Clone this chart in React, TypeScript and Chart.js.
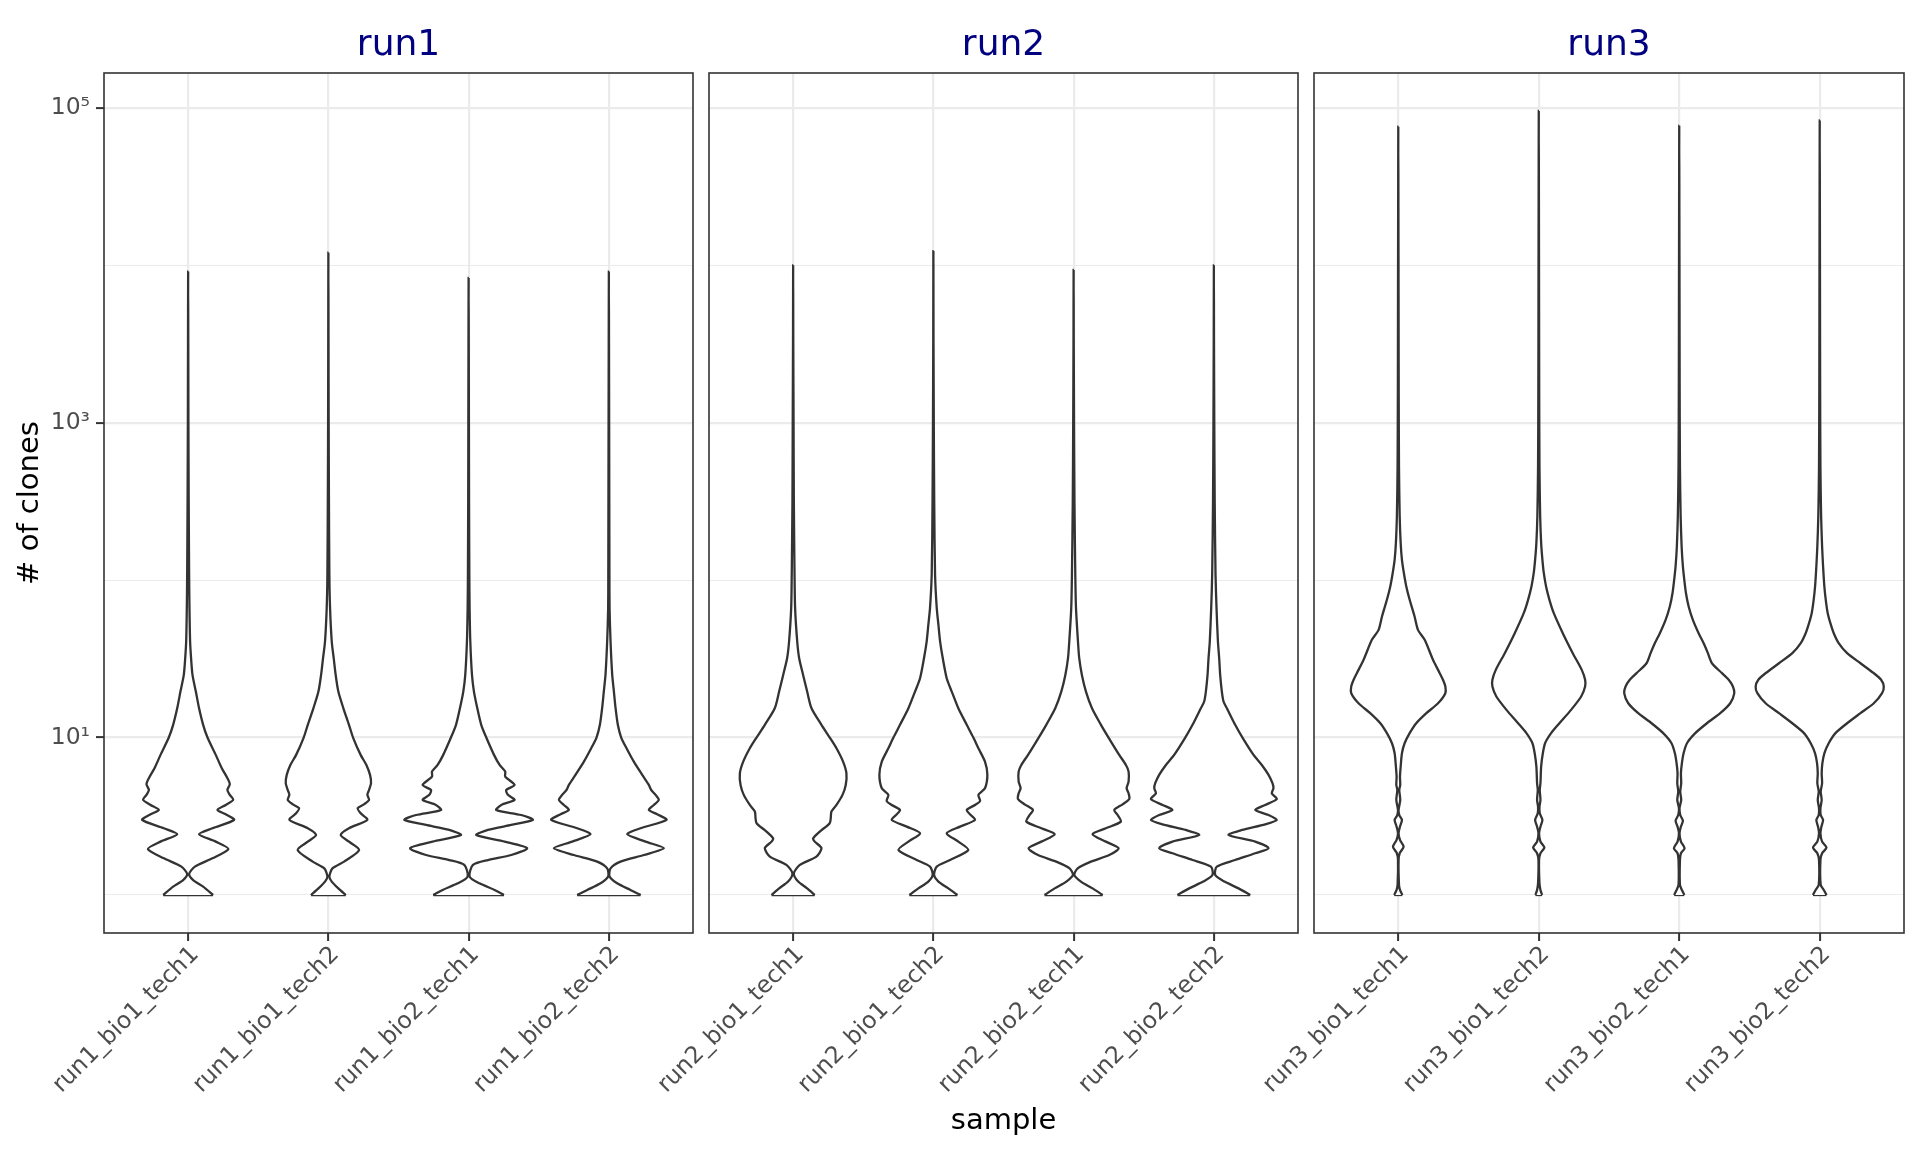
import React, { useEffect, useRef } from 'react';
import { Chart, registerables } from 'chart.js';

Chart.register(...registerables);

const FONT = '"DejaVu Sans", "Noto Sans", sans-serif';

// ---------- data ----------
const panelTitles = ['run1', 'run2', 'run3'];
const run1Samples = ['run1_bio1_tech1', 'run1_bio1_tech2', 'run1_bio2_tech1', 'run1_bio2_tech2'];
const run2Samples = ['run2_bio1_tech1', 'run2_bio1_tech2', 'run2_bio2_tech1', 'run2_bio2_tech2'];
const run3Samples = ['run3_bio1_tech1', 'run3_bio1_tech2', 'run3_bio2_tech1', 'run3_bio2_tech2'];

const yTickValues = [1, 10, 100, 1000, 10000, 100000];
const yTickLabels = ['', '10¹', '', '10³', '', '10⁵'];
const yMin = 0.5735;
const yMax = 166500;

// violin outlines: [log10(# of clones), half-width (category units)]
const run1_bio1_tech1: [number, number][] = [
  [0, 0.178], [0.053, 0.107], [0.095, 0.036], [0.133, 0.007], [0.18, 0.048], [0.233, 0.173],
  [0.292, 0.287], [0.339, 0.197], [0.386, 0.078], [0.424, 0.173], [0.477, 0.328], [0.513, 0.268],
  [0.54, 0.209], [0.572, 0.268], [0.604, 0.321], [0.636, 0.297], [0.667, 0.28], [0.703, 0.297],
  [0.742, 0.28], [0.805, 0.24], [0.89, 0.197], [1.0, 0.138], [1.081, 0.107], [1.186, 0.078],
  [1.292, 0.055], [1.398, 0.031], [1.504, 0.021], [1.61, 0.014], [1.822, 0.0095], [2.034, 0.007],
  [2.5, 0.004], [3.0, 0.002], [3.5, 0.001], [3.96, 0],
];
const run1_bio1_tech2: [number, number][] = [
  [0, 0.124], [0.042, 0.071], [0.085, 0.024], [0.117, 0.007], [0.169, 0.029], [0.212, 0.112],
  [0.286, 0.219], [0.339, 0.147], [0.381, 0.088], [0.424, 0.147], [0.477, 0.278], [0.519, 0.23],
  [0.551, 0.209], [0.576, 0.254], [0.604, 0.29], [0.636, 0.278], [0.667, 0.29], [0.71, 0.304],
  [0.763, 0.297], [0.826, 0.271], [0.89, 0.23], [1.0, 0.176], [1.081, 0.147], [1.186, 0.107],
  [1.292, 0.071], [1.398, 0.052], [1.504, 0.038], [1.61, 0.024], [1.822, 0.012], [2.034, 0.007],
  [2.5, 0.004], [3.0, 0.002], [3.5, 0.001], [4.08, 0],
];
const run1_bio2_tech1: [number, number][] = [
  [0, 0.252], [0.032, 0.185], [0.074, 0.078], [0.117, 0.007], [0.191, 0.031], [0.222, 0.138],
  [0.254, 0.304], [0.297, 0.418], [0.339, 0.257], [0.381, 0.055], [0.413, 0.138], [0.445, 0.304],
  [0.477, 0.458], [0.508, 0.375], [0.54, 0.197], [0.572, 0.233], [0.604, 0.328], [0.636, 0.28],
  [0.667, 0.268], [0.699, 0.328], [0.752, 0.261], [0.784, 0.261], [0.826, 0.221], [0.89, 0.181],
  [1.0, 0.126], [1.081, 0.09], [1.186, 0.062], [1.292, 0.038], [1.398, 0.024], [1.61, 0.012],
  [1.822, 0.007], [2.034, 0.005], [2.5, 0.003], [3.0, 0.002], [3.5, 0.001], [3.92, 0],
];
const run1_bio2_tech2: [number, number][] = [
  [0, 0.226], [0.032, 0.154], [0.074, 0.059], [0.117, 0.005], [0.169, 0.012], [0.212, 0.083],
  [0.254, 0.249], [0.297, 0.392], [0.339, 0.261], [0.386, 0.131], [0.424, 0.226], [0.477, 0.411],
  [0.513, 0.344], [0.54, 0.285], [0.572, 0.321], [0.604, 0.356], [0.636, 0.333], [0.667, 0.302],
  [0.699, 0.285], [0.763, 0.238], [0.847, 0.178], [0.932, 0.126], [1.0, 0.088], [1.081, 0.064],
  [1.186, 0.048], [1.292, 0.036], [1.398, 0.024], [1.61, 0.012], [1.822, 0.005], [2.034, 0.004],
  [2.5, 0.003], [3.0, 0.002], [3.5, 0.001], [3.96, 0],
];
const run2_bio1_tech1: [number, number][] = [
  [0, 0.154], [0.042, 0.1], [0.085, 0.036], [0.138, 0.005], [0.191, 0.048], [0.244, 0.166],
  [0.297, 0.202], [0.339, 0.154], [0.36, 0.143], [0.403, 0.19], [0.456, 0.261], [0.487, 0.268],
  [0.53, 0.273], [0.572, 0.309], [0.636, 0.352], [0.699, 0.375], [0.773, 0.38], [0.847, 0.356],
  [0.932, 0.309], [1.0, 0.261], [1.081, 0.202], [1.186, 0.131], [1.292, 0.1], [1.398, 0.071],
  [1.504, 0.043], [1.61, 0.029], [1.822, 0.014], [2.034, 0.01], [2.5, 0.005], [3.0, 0.003],
  [3.5, 0.001], [4.0, 0],
];
const run2_bio1_tech2: [number, number][] = [
  [0, 0.171], [0.042, 0.107], [0.085, 0.036], [0.127, 0.005], [0.18, 0.024], [0.222, 0.119],
  [0.286, 0.249], [0.339, 0.178], [0.392, 0.095], [0.434, 0.19], [0.477, 0.297], [0.513, 0.261],
  [0.54, 0.238], [0.572, 0.297], [0.597, 0.333], [0.636, 0.321], [0.678, 0.368], [0.763, 0.385],
  [0.847, 0.368], [0.932, 0.321], [1.0, 0.285], [1.081, 0.238], [1.186, 0.178], [1.292, 0.131],
  [1.377, 0.095], [1.504, 0.067], [1.61, 0.048], [1.716, 0.036], [1.822, 0.024], [2.034, 0.012],
  [2.5, 0.006], [3.0, 0.003], [3.5, 0.001], [4.09, 0],
];
const run2_bio2_tech1: [number, number][] = [
  [0, 0.207], [0.042, 0.135], [0.085, 0.052], [0.127, 0.005], [0.169, 0.029], [0.212, 0.124],
  [0.254, 0.254], [0.297, 0.321], [0.339, 0.23], [0.386, 0.135], [0.424, 0.23], [0.466, 0.337],
  [0.508, 0.314], [0.54, 0.29], [0.576, 0.349], [0.61, 0.397], [0.646, 0.392], [0.678, 0.378],
  [0.72, 0.392], [0.784, 0.392], [0.826, 0.373], [0.89, 0.325], [1.0, 0.249], [1.081, 0.195],
  [1.186, 0.131], [1.292, 0.088], [1.398, 0.059], [1.504, 0.04], [1.61, 0.031], [1.822, 0.017],
  [2.034, 0.012], [2.5, 0.006], [3.0, 0.003], [3.5, 0.001], [3.97, 0],
];
const run2_bio2_tech2: [number, number][] = [
  [0, 0.259], [0.042, 0.176], [0.085, 0.076], [0.127, 0.01], [0.18, 0.021], [0.222, 0.152],
  [0.265, 0.295], [0.297, 0.39], [0.339, 0.295], [0.381, 0.105], [0.413, 0.2], [0.449, 0.366],
  [0.477, 0.449], [0.508, 0.39], [0.54, 0.295], [0.572, 0.366], [0.61, 0.449], [0.646, 0.413],
  [0.678, 0.425], [0.71, 0.418], [0.763, 0.39], [0.826, 0.342], [0.89, 0.283], [1.0, 0.204],
  [1.081, 0.152], [1.186, 0.093], [1.229, 0.069], [1.292, 0.057], [1.398, 0.045], [1.504, 0.038],
  [1.61, 0.029], [1.822, 0.019], [2.034, 0.012], [2.5, 0.006], [3.0, 0.003], [3.5, 0.001], [4.0, 0],
];
const run3_bio1_tech1: [number, number][] = [
  [0, 0.029], [0.032, 0.012], [0.064, 0.005], [0.222, 0.002], [0.265, 0.01], [0.307, 0.038],
  [0.35, 0.012], [0.392, 0.002], [0.434, 0.012], [0.477, 0.026], [0.508, 0.007], [0.54, 0.002],
  [0.604, 0.014], [0.667, 0.007], [0.699, 0.014], [0.752, 0.012], [0.816, 0.017], [0.9, 0.026],
  [0.964, 0.045], [1.028, 0.081], [1.091, 0.128], [1.155, 0.2], [1.218, 0.283], [1.282, 0.335],
  [1.324, 0.335], [1.367, 0.318], [1.409, 0.295], [1.494, 0.247], [1.621, 0.188], [1.684, 0.14],
  [1.769, 0.116], [1.875, 0.081], [1.96, 0.057], [2.044, 0.04], [2.129, 0.026], [2.235, 0.017],
  [2.405, 0.01], [2.722, 0.005], [3.2, 0.003], [3.8, 0.002], [4.3, 0.001], [4.88, 0],
];
const run3_bio1_tech2: [number, number][] = [
  [0, 0.024], [0.032, 0.012], [0.074, 0.005], [0.222, 0.002], [0.265, 0.012], [0.301, 0.04],
  [0.339, 0.012], [0.392, 0.002], [0.434, 0.012], [0.477, 0.026], [0.519, 0.007], [0.561, 0.005],
  [0.604, 0.012], [0.667, 0.007], [0.71, 0.012], [0.816, 0.017], [0.9, 0.029], [0.964, 0.045],
  [1.028, 0.088], [1.091, 0.147], [1.176, 0.23], [1.261, 0.302], [1.324, 0.33], [1.367, 0.33],
  [1.43, 0.306], [1.536, 0.242], [1.663, 0.171], [1.79, 0.107], [1.875, 0.076], [1.96, 0.052],
  [2.044, 0.036], [2.129, 0.026], [2.235, 0.017], [2.405, 0.01], [2.722, 0.005], [3.2, 0.003],
  [3.8, 0.002], [4.4, 0.001], [4.98, 0],
];
const run3_bio2_tech1: [number, number][] = [
  [0, 0.036], [0.032, 0.019], [0.064, 0.005], [0.222, 0.005], [0.265, 0.012], [0.297, 0.038],
  [0.339, 0.012], [0.392, 0.002], [0.434, 0.012], [0.472, 0.026], [0.508, 0.007], [0.551, 0.002],
  [0.604, 0.014], [0.657, 0.007], [0.71, 0.014], [0.773, 0.012], [0.837, 0.019], [0.9, 0.031],
  [0.964, 0.055], [1.028, 0.114], [1.091, 0.197], [1.155, 0.292], [1.218, 0.363], [1.282, 0.392],
  [1.324, 0.382], [1.367, 0.352], [1.409, 0.304], [1.472, 0.233], [1.536, 0.204], [1.6, 0.173],
  [1.663, 0.138], [1.748, 0.097], [1.833, 0.067], [1.917, 0.048], [2.002, 0.036], [2.087, 0.026],
  [2.214, 0.017], [2.405, 0.01], [2.722, 0.005], [3.2, 0.003], [3.8, 0.002], [4.3, 0.001], [4.886, 0],
];
const run3_bio2_tech2: [number, number][] = [
  [0, 0.048], [0.032, 0.029], [0.064, 0.007], [0.222, 0.005], [0.265, 0.017], [0.301, 0.048],
  [0.339, 0.017], [0.392, 0.005], [0.434, 0.012], [0.477, 0.024], [0.508, 0.007], [0.551, 0.005],
  [0.604, 0.014], [0.657, 0.007], [0.71, 0.017], [0.773, 0.014], [0.837, 0.019], [0.9, 0.033],
  [0.964, 0.064], [1.028, 0.112], [1.091, 0.195], [1.155, 0.29], [1.218, 0.385], [1.282, 0.444],
  [1.324, 0.456], [1.367, 0.437], [1.409, 0.385], [1.472, 0.29], [1.536, 0.195], [1.6, 0.135],
  [1.663, 0.1], [1.727, 0.076], [1.79, 0.057], [1.875, 0.043], [1.96, 0.033], [2.087, 0.024],
  [2.214, 0.017], [2.405, 0.01], [2.722, 0.005], [3.2, 0.003], [3.8, 0.002], [4.4, 0.001], [4.92, 0],
];

const run1Violins = [run1_bio1_tech1, run1_bio1_tech2, run1_bio2_tech1, run1_bio2_tech2];
const run2Violins = [run2_bio1_tech1, run2_bio1_tech2, run2_bio2_tech1, run2_bio2_tech2];
const run3Violins = [run3_bio1_tech1, run3_bio1_tech2, run3_bio2_tech1, run3_bio2_tech2];

const panelSamples = [run1Samples, run2Samples, run3Samples];
const panelViolins = [run1Violins, run2Violins, run3Violins];

// ---------- layout (pixels) ----------
const W = 1920;
const H = 1152;
const padLeft = [0, 709, 1314];
const padRight = [1227, 622, 16];

const panelBorder = {
  id: 'panelBorder',
  afterDatasetsDraw(chart: any) {
    const { ctx, chartArea } = chart;
    const { left, top, right, bottom } = chartArea;
    ctx.save();
    ctx.strokeStyle = '#333333';
    ctx.lineWidth = 1.6;
    ctx.strokeRect(left, top, right - left, bottom - top);
    ctx.restore();
  },
};

function violinDatasets(profile: [number, number][], center: number) {
  const right = profile.map(([e, w]) => ({ x: center + w, y: Math.pow(10, e) }));
  const left = profile
    .slice(0, -1)
    .reverse()
    .map(([e, w]) => ({ x: center - w, y: Math.pow(10, e) }));
  const outline = [...right, ...left];
  const base = [left[left.length - 1], right[0]];
  const common = {
    borderColor: '#333333',
    borderWidth: 2.3,
    pointRadius: 0,
    pointHoverRadius: 0,
  };
  return [
    {
      ...common,
      data: outline,
      tension: 0.25,
      fill: 'shape',
      backgroundColor: '#ffffff',
    },
    { ...common, data: base, tension: 0, fill: false },
  ];
}

function buildConfig(i: number) {
  const samples = panelSamples[i];
  const datasets: any[] = [];
  panelViolins[i].forEach((v, k) => {
    datasets.push(...violinDatasets(v, k + 1));
  });
  const tickFont = { family: FONT, size: 23.5 };
  return {
    type: 'line',
    data: { datasets },
    plugins: [panelBorder],
    options: {
      animation: false,
      responsive: false,
      events: [],
      layout: { padding: { top: 0, bottom: 0, left: padLeft[i], right: padRight[i] } },
      plugins: {
        legend: { display: false },
        tooltip: { enabled: false },
        title: {
          display: true,
          text: panelTitles[i],
          color: '#000080',
          fullSize: false,
          font: { family: FONT, size: 36, weight: 'normal' },
          padding: { top: 24.5, bottom: 5.3 },
        },
      },
      scales: {
        x: {
          type: 'linear',
          min: 0.4,
          max: 4.6,
          afterBuildTicks: (s: any) => {
            s.ticks = samples.map((_, k) => ({ value: k + 1 }));
          },
          afterFit: (s: any) => {
            s.height = 219;
            s.paddingLeft = 0;
            s.paddingRight = 0;
          },
          ticks: {
            autoSkip: false,
            minRotation: 45,
            maxRotation: 45,
            padding: 0,
            labelOffset: 7,
            color: '#4D4D4D',
            font: tickFont,
            callback: (_v: any, idx: number) => samples[idx],
          },
          grid: {
            color: '#EBEBEB',
            lineWidth: 2.2,
            drawTicks: true,
            tickLength: 8,
            tickColor: '#333333',
            tickWidth: 2,
          },
          border: { display: false },
          title: {
            display: i === 1,
            text: 'sample',
            color: '#000000',
            font: { family: FONT, size: 29 },
            padding: { top: 0, bottom: 13 },
          },
        },
        y: {
          type: 'logarithmic',
          min: yMin,
          max: yMax,
          afterBuildTicks: (s: any) => {
            s.ticks = yTickValues.map((v) => ({ value: v }));
          },
          afterFit: (s: any) => {
            s.width = i === 0 ? 104 : 0;
            s.paddingTop = 0;
            s.paddingBottom = 0;
          },
          ticks: {
            display: i === 0,
            autoSkip: false,
            padding: 6,
            color: '#4D4D4D',
            font: tickFont,
            callback: (_v: any, idx: number) => yTickLabels[idx],
          },
          grid: {
            color: '#EBEBEB',
            lineWidth: (ctx: any) => (ctx.index % 2 === 1 ? 2.2 : 1.1),
            drawTicks: i === 0,
            tickLength: 8,
            tickColor: (ctx: any) => (ctx.index % 2 === 1 ? '#333333' : 'rgba(0,0,0,0)'),
            tickWidth: 2,
          },
          border: { display: false },
          title: {
            display: i === 0,
            text: '# of clones',
            color: '#000000',
            font: { family: FONT, size: 29 },
            padding: { top: 12.6, bottom: 0 },
          },
        },
      },
    },
  };
}

export default function App() {
  const r0 = useRef<HTMLCanvasElement | null>(null);
  const r1 = useRef<HTMLCanvasElement | null>(null);
  const r2 = useRef<HTMLCanvasElement | null>(null);
  const refs = [r0, r1, r2];

  useEffect(() => {
    const charts: Chart[] = [];
    refs.forEach((r, i) => {
      if (r.current) {
        charts.push(new Chart(r.current, buildConfig(i) as any));
      }
    });
    return () => charts.forEach((c) => c.destroy());
  }, []);

  return (
    <div style={{ position: 'absolute', left: 0, top: 0, width: W, height: H, background: '#ffffff' }}>
      {refs.map((r, i) => (
        <canvas
          key={i}
          ref={r}
          width={W}
          height={H}
          style={{ position: 'absolute', left: 0, top: 0, width: W, height: H }}
        />
      ))}
    </div>
  );
}
